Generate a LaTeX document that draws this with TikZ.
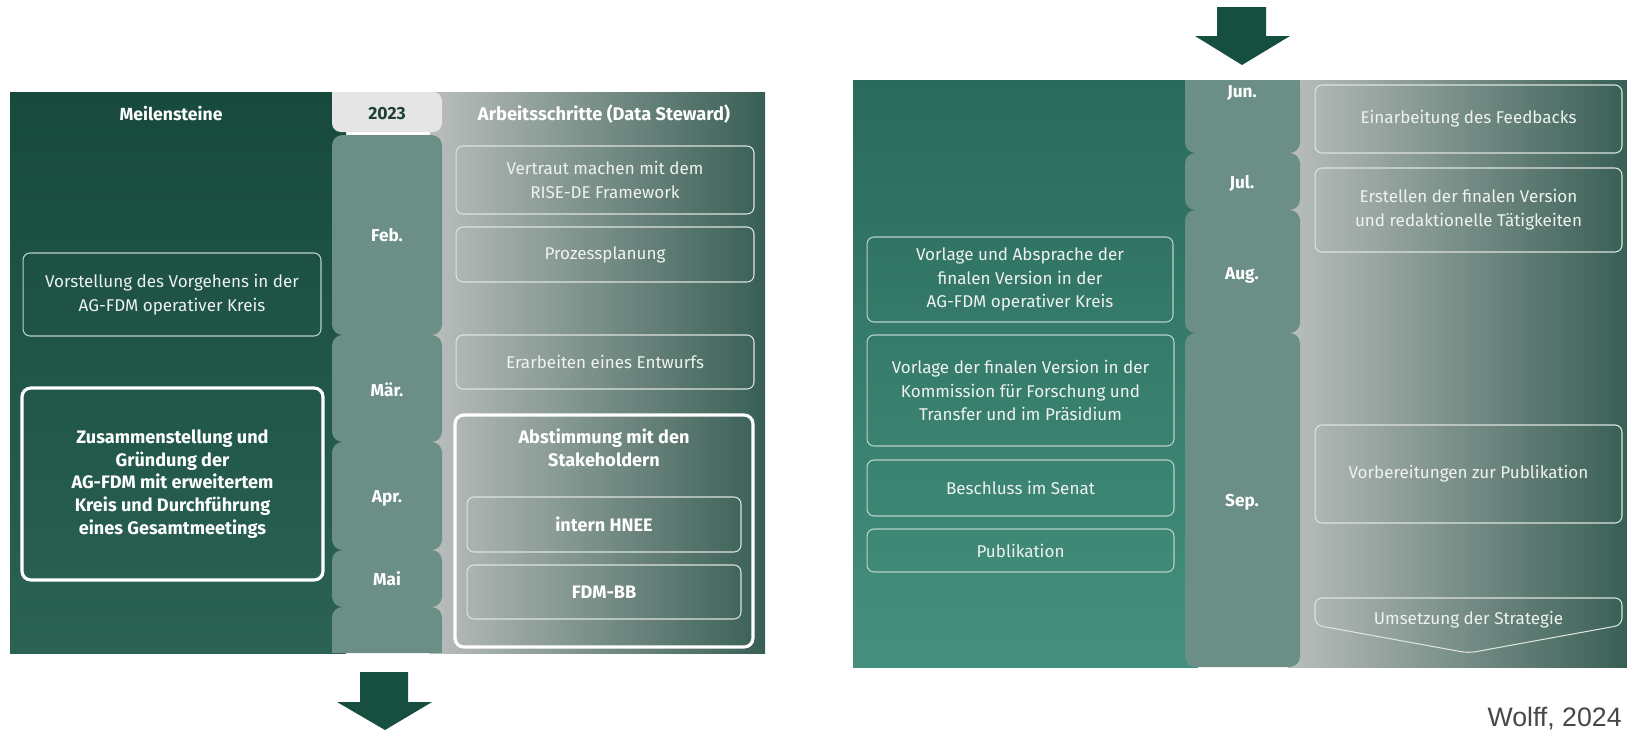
\documentclass[tikz,border=0pt]{standalone}
\usepackage{fontspec}
\setmainfont{Fira Sans}
\newfontfamily\creditfont{Liberation Sans}
\definecolor{msdark}{HTML}{174A3D}
\definecolor{msdarkb}{HTML}{2A6253}
\definecolor{msteal}{HTML}{2A6A5C}
\definecolor{mstealb}{HTML}{44907D}
\definecolor{monthcol}{HTML}{6B8F87}
\definecolor{tabcol}{HTML}{E4E5E4}
\definecolor{graylight}{HTML}{BABEBC}
\definecolor{graydark}{HTML}{385F55}
\definecolor{arrowcol}{HTML}{164F40}
\definecolor{boxline}{HTML}{B9D2C9}
\definecolor{boxlinegr}{HTML}{DDE3E0}
\definecolor{boxtext}{HTML}{EEF2F0}
\definecolor{yeartext}{HTML}{1F4036}
\tikzset{
  boxtxt/.style={text=boxtext,align=center,font=\fontsize{9.7}{13.6}\selectfont},
  boldtxt/.style={text=white,align=center,font=\bfseries\fontsize{10.3}{13}\selectfont},
  thinbox/.style={boxtxt,draw=boxline,line width=.6pt,rounded corners=4pt,inner sep=0pt},
  thingray/.style={thinbox,draw=boxlinegr},
  thickbox/.style={draw=white,line width=1.8pt,rounded corners=5pt,inner sep=0pt},
  monthseg/.style={fill=monthcol,rounded corners=6pt},
  monthlbl/.style={text=white,font=\bfseries\fontsize{9.8}{12}\selectfont},
  headlbl/.style={text=white,font=\bfseries\fontsize{10}{12}\selectfont},
}
\begin{document}
\begin{tikzpicture}[x=.02cm,y=-.02cm]
\useasboundingbox (0,0) rectangle (1627,731);
\fill[white] (0,0) rectangle (1627,731);
\path[top color=msdark,bottom color=msdarkb] (10,92) rectangle (346,653);
\path[left color=graylight,right color=graydark] (430,92) rectangle (765,653);
\path[fill=tabcol,rounded corners=5pt] (332,92) rectangle (442,132);
\path[fill=tabcol] (332,92) rectangle (350,110);
\path[monthseg] (332,135) rectangle (442,335);
\path[monthseg] (332,335) rectangle (442,442);
\path[monthseg] (332,442) rectangle (442,550);
\path[monthseg] (332,550) rectangle (442,607);
\path[monthseg] (332,607) rectangle (442,653);
\path[fill=monthcol] (332,630) rectangle (442,653);
\node[headlbl] (meilen) at (171,114) {Meilensteine};
\node[text=yeartext,font=\bfseries\fontsize{10}{12}\selectfont] (jahr) at (387,114) {2023};
\node[headlbl,font=\bfseries\fontsize{10.4}{12}\selectfont] (arbeit) at (604,114) {Arbeitsschritte (Data Steward)};
\node[monthlbl] (feb) at (387,235) {Feb.};
\node[monthlbl] (maer) at (387,390) {Mär.};
\node[monthlbl] (apr) at (387,498) {Apr.};
\node[monthlbl] (mai) at (387,579) {Mai};
\node[thinbox,minimum width=5.96cm,minimum height=1.66cm] (vorstellung) at (172,294.5) {Vorstellung des Vorgehens in der\\AG-FDM operativer Kreis};
\node[thickbox,boldtxt,minimum width=6.02cm,minimum height=3.84cm] (zusammen) at (172.5,484) {Zusammenstellung und\\Gründung der\\AG-FDM mit erweitertem\\Kreis und Durchführung\\eines Gesamtmeetings};
\node[thingray,minimum width=5.96cm,minimum height=1.36cm] (vertraut) at (605,180) {Vertraut machen mit dem\\RISE-DE Framework};
\node[thingray,minimum width=5.96cm,minimum height=1.1cm] (prozess) at (605,254.5) {Prozessplanung};
\node[thingray,minimum width=5.96cm,minimum height=1.08cm] (entwurf) at (605,362) {Erarbeiten eines Entwurfs};
\node[thickbox,minimum width=5.96cm,minimum height=4.64cm] (abstimmung) at (604,531) {};
\node[boldtxt] (abstitel) at (604,448) {Abstimmung mit den\\Stakeholdern};
\node[thingray,boldtxt,minimum width=5.48cm,minimum height=1.1cm] (intern) at (604,524.5) {intern HNEE};
\node[thingray,boldtxt,minimum width=5.48cm,minimum height=1.08cm] (fdmbb) at (604,592) {FDM-BB};
\fill[arrowcol] (360,672) -- (408,672) -- (408,702) -- (432,702) -- (385,730) -- (337,702) -- (360,702) -- cycle;
\fill[arrowcol] (1217,7) -- (1266,7) -- (1266,36) -- (1290,36) -- (1242,65) -- (1195,36) -- (1217,36) -- cycle;
\path[top color=msteal,bottom color=mstealb] (853,80) rectangle (1198,667);
\path[left color=graylight,right color=graydark] (1288,80) rectangle (1627,667);
\path[monthseg] (1185,80) rectangle (1300,153);
\path[fill=monthcol] (1185,80) rectangle (1300,110);
\path[monthseg] (1185,153) rectangle (1300,210);
\path[monthseg] (1185,210) rectangle (1300,333);
\path[monthseg] (1185,333) rectangle (1300,667);
\node[monthlbl] (jun) at (1242,93) {Jun.};
\node[monthlbl] (jul) at (1242,183) {Jul.};
\node[monthlbl] (aug) at (1242,275) {Aug.};
\node[monthlbl] (sep) at (1242,502) {Sep.};
\node[thinbox,minimum width=6.12cm,minimum height=1.7cm] (vorlageag) at (1020,279.5) {Vorlage und Absprache der\\finalen Version in der\\AG-FDM operativer Kreis};
\node[thinbox,minimum width=6.14cm,minimum height=2.22cm] (vorlagekom) at (1020.5,390.5) {Vorlage der finalen Version in der\\Kommission für Forschung und\\Transfer und im Präsidium};
\node[thinbox,minimum width=6.14cm,minimum height=1.12cm] (senat) at (1020.5,488) {Beschluss im Senat};
\node[thinbox,minimum width=6.14cm,minimum height=.86cm] (publ) at (1020.5,550.5) {Publikation};
\node[thingray,minimum width=6.14cm,minimum height=1.36cm] (feedback) at (1468.5,119) {Einarbeitung des Feedbacks};
\node[thingray,minimum width=6.14cm,minimum height=1.68cm] (erstellen) at (1468.5,210) {Erstellen der finalen Version\\und redaktionelle Tätigkeiten};
\node[thingray,minimum width=6.14cm,minimum height=1.96cm] (vorbereit) at (1468.5,474) {Vorbereitungen zur Publikation};
\draw[draw=boxlinegr,line width=.6pt,rounded corners=4pt] (1315,625) -- (1315,598) -- (1622,598) -- (1622,625) -- (1468.5,653) -- cycle;
\node[boxtxt] (umsetzung) at (1468.5,620) {Umsetzung der Strategie};
\node[anchor=base east,text=black!72,font=\creditfont\fontsize{15.2}{18}\selectfont,inner sep=0pt] (quelle) at (1622,726) {Wolff, 2024};
\end{tikzpicture}
\end{document}
